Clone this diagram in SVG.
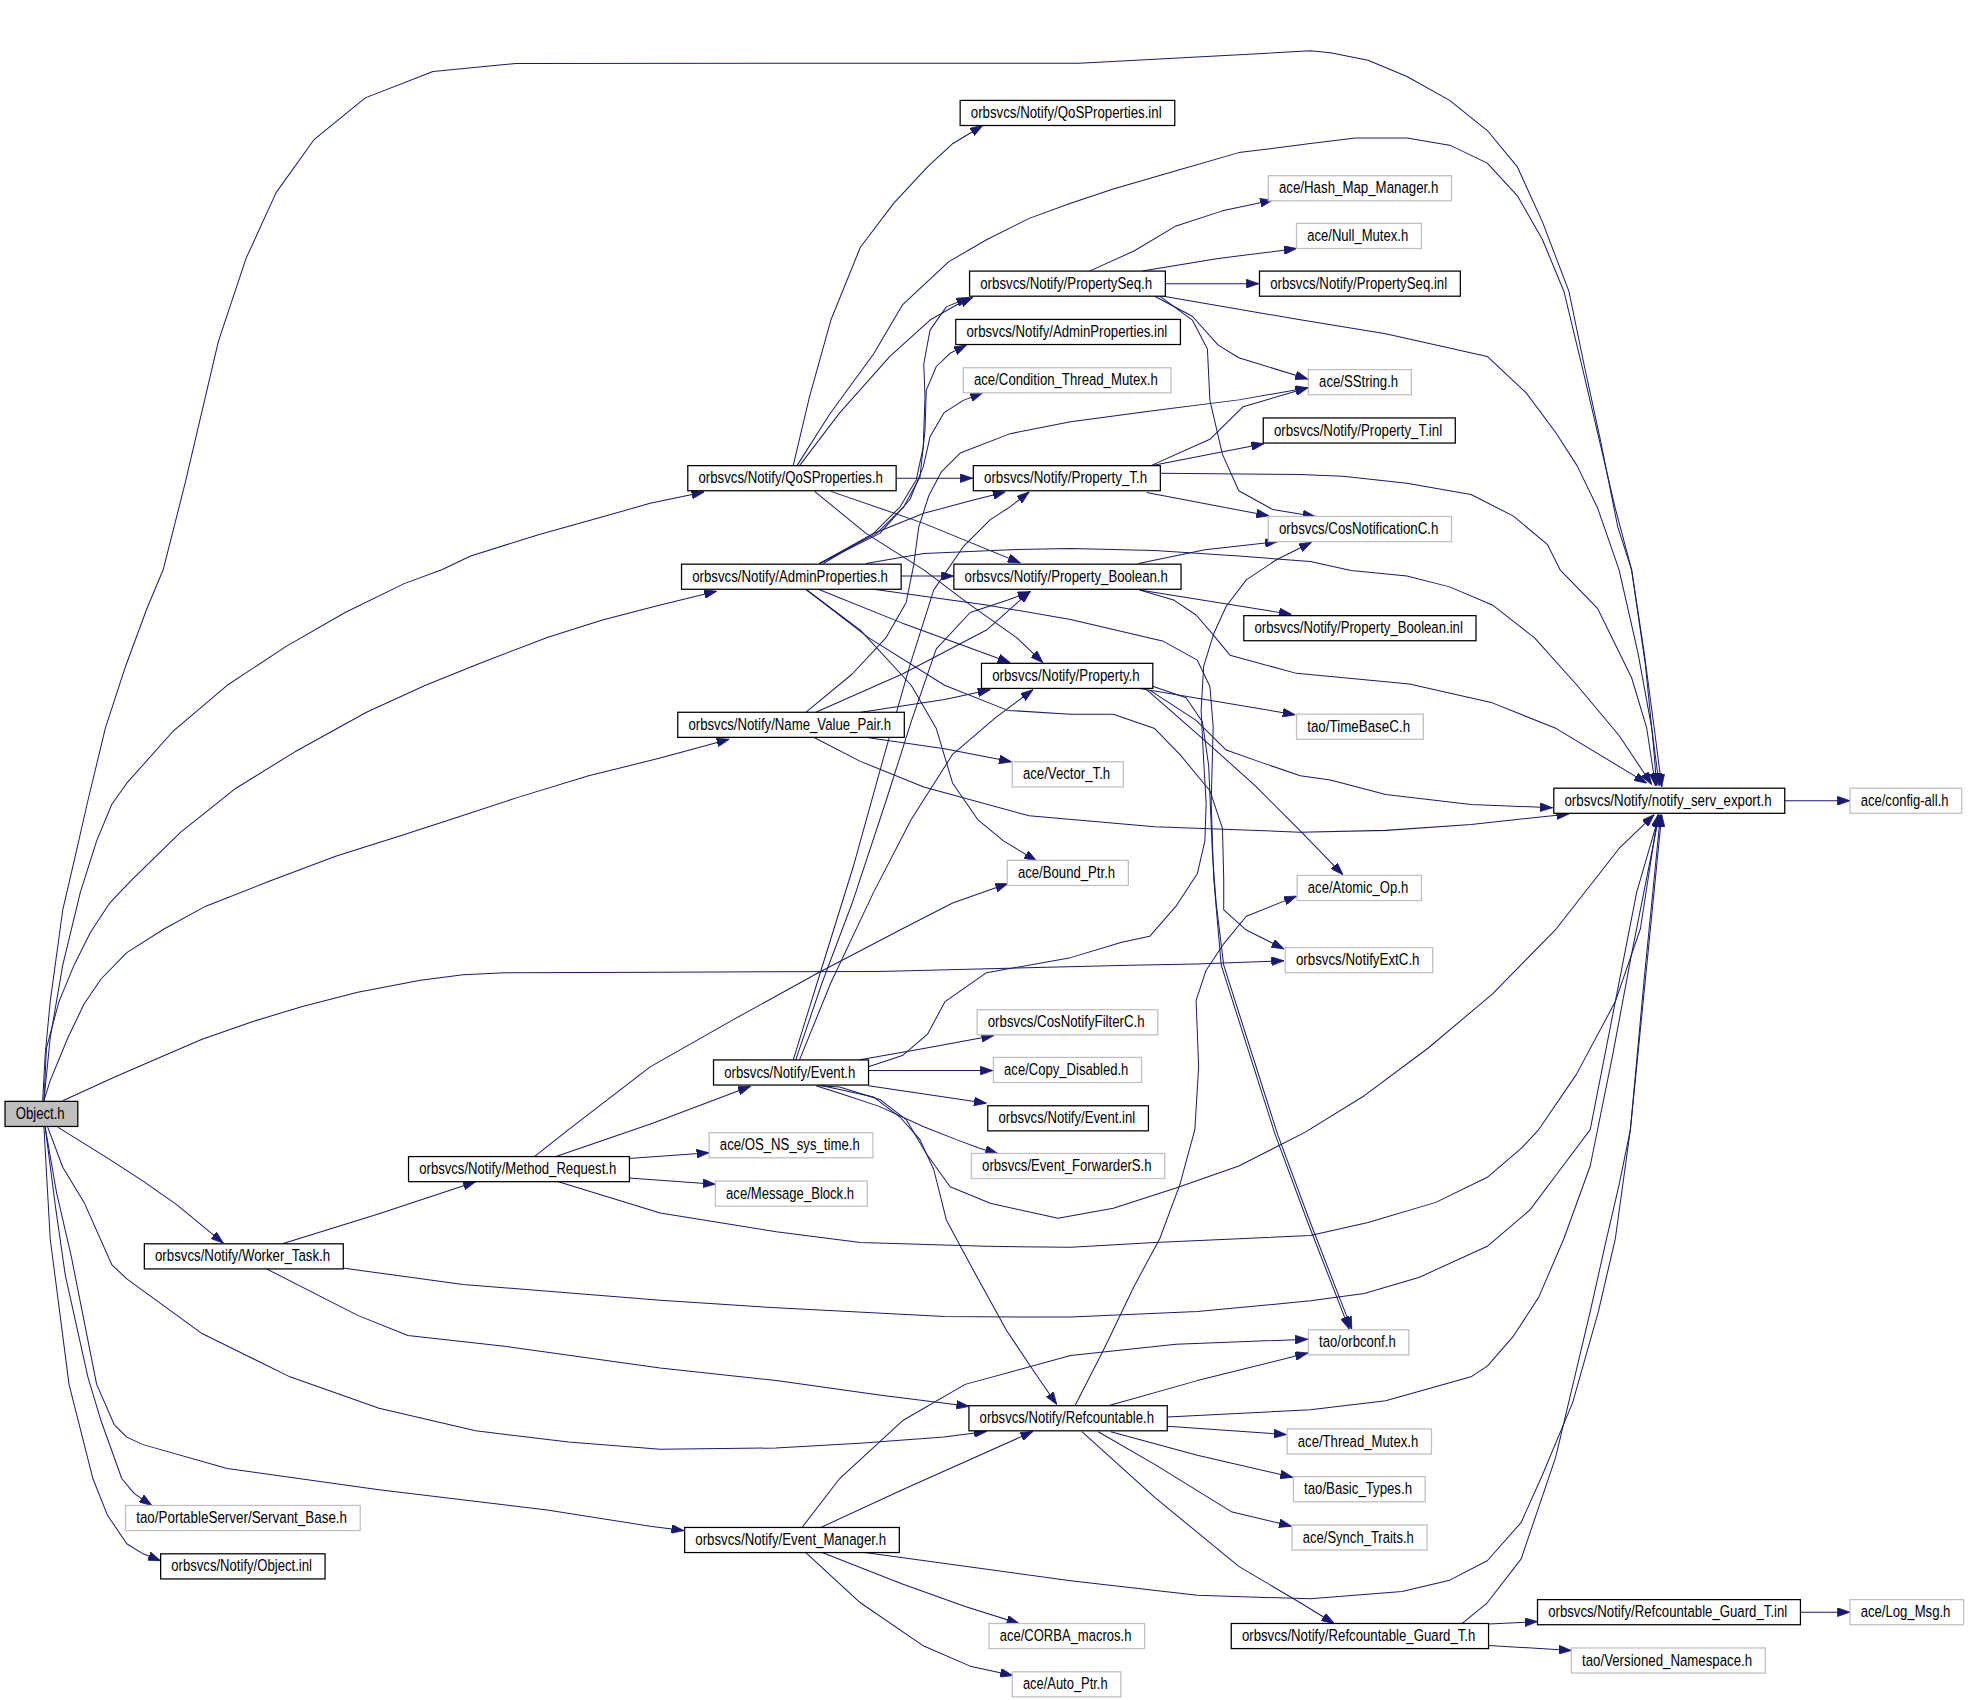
<svg xmlns="http://www.w3.org/2000/svg" width="1968" height="1700" viewBox="0 0 1968 1700">
<style>
text{font-family:"Liberation Sans",Arial,sans-serif;font-size:12.5px;fill:#000}
.b{fill:#fff;stroke:#000;stroke-width:1}
.g{fill:#fff;stroke:#bfbfbf;stroke-width:1}
.r{fill:#bfbfbf;stroke:#000;stroke-width:1}
#edges path{fill:none;stroke:#191970;stroke-width:0.8;stroke-linejoin:round;marker-end:url(#ah)}
</style>
<defs>
<marker id="ah" viewBox="0 0 10 7" refX="10" refY="3.5" markerWidth="10" markerHeight="7" orient="auto" markerUnits="userSpaceOnUse">
<path d="M0,0L10,3.5L0,7z" fill="#191970" stroke="#191970" stroke-width="0.6"/>
</marker>
</defs>
<rect width="1968" height="1700" fill="#fff"/>
<g transform="scale(1.2551)">
<g id="edges">
<path d="M34,877 L36,840 L40,798 L50,725 L60,682 L70,638 L84,580 L100,531 L117,485 L130,454 L147.5,385 L174,272 L196,206 L220,153.5 L250,111.5 L291,78 L345,57 L411,50.5 L860,50.4 L1044,40.5 L1060,42 L1090,48 L1121,61 L1155,80 L1185,104 L1209,133 L1229,177 L1250,232 L1262,290 L1275,350 L1289,420 L1300,454 L1310,520 L1318,580 L1324,627"/>
<path d="M35,877 L40,827 L50,769 L64,711 L77,670 L89,641 L101,624 L137.5,583 L181,546 L228,515 L275,488 L322,465 L352,454 L375,443 L429,426 L476,413 L518,401 L561,392"/>
<path d="M35,877 L37,835 L47,798 L59,769 L72,743 L87,720 L104,702 L144,663 L188,628 L235,599 L292,567.5 L339,546 L386,527 L436,508 L480,494 L526,482 L571,471"/>
<path d="M35,877 L40,861 L54,827 L67,800 L80.5,780 L101,759 L131,740 L164,722 L215,702 L268,682 L318.5,666 L359,653 L412,635.5 L469,618 L526,604 L581,589"/>
<path d="M50,877 L90.5,858.5 L124,844 L161,828 L201,814 L241,802 L285,790.5 L335,781 L369,776.6 L402,775 L526,774.6 L700,774 L900,769 L953,768 L1023,765.5"/>
<path d="M46,898 L87,923.5 L114,941 L141,960 L178,990.5"/>
<path d="M38,898 L50,930 L67,958 L89,1007.5 L101,1019 L161,1062.5 L231,1097 L302,1122 L379,1140 L453,1149 L526,1154.6 L618,1153.7 L685,1150 L752,1145 L786,1140.5"/>
<path d="M36,898 L45,950 L57,1002 L77,1103 L91,1135 L101,1145 L114,1151 L181,1170 L302,1187 L436,1203 L518,1216 L545,1219.5"/>
<path d="M36,898 L44,960 L52,1016 L70,1097 L80.5,1132 L97,1178 L107,1190 L121,1199.5"/>
<path d="M35,898 L40,987 L55,1103 L74,1178 L85.5,1207 L101,1230 L114,1238 L128,1243.5"/>
<path d="M632,371 L645,316 L662,255 L685.5,197 L712,162 L739,133 L759,114.5 L783,100"/>
<path d="M635,371 L661,330 L696,282 L719,243 L756,208.5 L786,191 L820,174 L853,162 L887,150.6 L937,136 L987,121.6 L1044,114.4 L1080,110 L1121,110 L1156,116 L1185,130 L1209,156 L1229,191 L1246,232 L1260,290 L1273.5,347.5 L1287,405 L1300,454 L1311,530 L1317,590 L1320,626"/>
<path d="M637,371 L669,329 L709,284 L741,255 L762,243 L775,237"/>
<path d="M714,381 L775,381"/>
<path d="M662,391.5 L736,417 L813,448.5"/>
<path d="M649,391.5 L690,425 L736,454 L773,482 L810,508 L831,528"/>
<path d="M653,449 L696,425 L717,404 L730,382.5 L735.6,356 L737,316 L736,290 L741,263 L754,244.5 L772,237"/>
<path d="M653,449 L698.5,425 L720,404 L733,380 L737,343 L738,311 L746,292 L757,281.5 L770,275"/>
<path d="M653,449 L701,425 L725,398 L735.6,372 L741,348 L752,329 L767.5,319 L783,313"/>
<path d="M656,449 L696,425 L736,409 L775.5,398.4 L801,392"/>
<path d="M718,459 L760,459"/>
<path d="M690,449 L736,441 L805,438 L853,437 L920,438.7 L987,443 L1044,447.4 L1076.5,454.5 L1121,459 L1155,467.6 L1189,482 L1222.5,508 L1256.5,546 L1290,586 L1316,625"/>
<path d="M652,469.5 L719,496.5 L805,528"/>
<path d="M642,469.5 L685.5,502 L726,546 L746,580.5 L759,624 L779,653 L799.5,670 L826,686"/>
<path d="M642,469.5 L692,508 L752.6,546 L803,566 L853,569 L887,569 L920,580.5 L940,601 L964,630 L974,660 L975,700 L975,725 L993,741 L1023,756"/>
<path d="M696,469.5 L786,482 L853,493.6 L927,511 L954,526 L964,547 L966.6,579 L965,640 L967,700 L973,769 L1016,904 L1042,974 L1075,1059"/>
<path d="M916,546 L945,556 L958,575 L963,610 L966,680 L969,720 L975,769 L1018,904 L1044,974 L1077,1059"/>
<path d="M912,548 L960,590 L1000,626 L1036,662 L1070,697"/>
<path d="M908,548.5 L1032,569.5"/>
<path d="M916,549.8 L953,574 L977,597.6 L1006.5,608 L1036,618 L1060,621.5 L1104,633 L1172,641 L1237,643.5"/>
<path d="M686,567.5 L752.6,557.4 L789,549.5"/>
<path d="M650,567.5 L719,537 L786,502 L821,471"/>
<path d="M642,567.5 L679,537 L706,508 L722,480 L728,450 L732,420 L740,395 L750,376 L765,361 L805,345.5 L853,336 L920,327 L987,318.6 L1042,309"/>
<path d="M692,587.8 L752.6,596.5 L806,607"/>
<path d="M649,587.8 L685.5,606.6 L736,627 L820,650 L920,658.7 L1036,663 L1104,661.6 L1172,657 L1250,648.5"/>
<path d="M868,216 L903.5,200 L937,180 L974,168 L1014,159.5"/>
<path d="M910,216 L970.6,206 L1033,198"/>
<path d="M928.5,226 L1003,226"/>
<path d="M920,236 L950,252 L970.6,275 L987,285 L1042,302"/>
<path d="M924,236 L950,255 L962,278 L964,319 L974,362 L987,391 L1014,406 L1048,411.5"/>
<path d="M927,236 L1036,254.8 L1104,266 L1185,284 L1216,313 L1239.5,344.6 L1256.5,371 L1273,405 L1290,454 L1305,520 L1316,580 L1322,626"/>
<path d="M917,371 L964,350 L990.5,324 L1042,309"/>
<path d="M917,371 L1007,353.5"/>
<path d="M924,377 L1036,378 L1070,379.4 L1121,385 L1172,394 L1205.5,411 L1233,434 L1243,454 L1273,485 L1300,540 L1312,580 L1319,626"/>
<path d="M913.5,392.4 L1011,411"/>
<path d="M907,449 L960,438 L1018,431.5"/>
<path d="M908,470 L1029,489.5"/>
<path d="M908,470 L935,478 L953,490 L966,505 L980,522 L1033,536.5 L1123,545 L1189,560 L1240,580.5 L1312,624"/>
<path d="M632,844.5 L652,780 L680,690 L705,600 L725,530 L744,470 L767.5,435.6 L789,414 L805,403.7 L820,392"/>
<path d="M634,844.5 L655,783 L679,719.5 L706,638 L726,575 L746,517 L773,488 L803,478 L821,471.5"/>
<path d="M637,844.5 L662,783 L696,711 L726,653 L759,601 L793,572 L823,549.5"/>
<path d="M692,850 L719,841 L739,824 L753,798 L786,775 L853,763 L893,751 L916,746 L937,722 L954,696 L960,670 L961,640 L959,606 L957,566 L959,531 L967,505 L977,483 L993,462 L1017,446 L1045,432"/>
<path d="M684,844.5 L736,835.4 L792,825"/>
<path d="M692,853 L791,853"/>
<path d="M692,865 L786,879"/>
<path d="M650,865 L669,871 L701,881.7 L736,897.7 L762,908 L781,915 L795,919"/>
<path d="M655,865 L669,868 L696,874 L717,890 L733,908 L744,932 L754,972 L775.5,1012 L802,1060 L823,1091.5 L842,1119"/>
<path d="M652,865 L669,866 L701,876 L722,892 L738,919 L757,945.5 L789,958.7 L843,970.7 L887,962.6 L937,946.6 L987,929 L1040,902 L1087,873 L1138,835 L1189,792 L1240,740 L1290,676 L1318,649"/>
<path d="M443,921.4 L520,895 L598,865.5"/>
<path d="M426,921.4 L453,900 L518,850 L585,812 L652,775 L719,740 L759,719.5 L803,704"/>
<path d="M501,923 L565,918.5"/>
<path d="M501,938.5 L570,943.5"/>
<path d="M443,941 L526,966.5 L618.5,981.4 L685.5,990 L786,993 L853,993.8 L920,990 L987,987 L1044,984.3 L1090,974 L1144,958 L1185,938 L1212,915 L1226,900 L1256,856 L1287,798 L1307,740 L1321,649"/>
<path d="M225,991 L302,967 L379,941.5"/>
<path d="M273,1010.3 L369,1023.4 L526,1036 L618.5,1042 L752.6,1049 L853,1049.4 L954,1045 L1044,1036.4 L1087,1030.6 L1131,1017.6 L1185,993 L1219,964 L1243,932 L1267,900 L1287,798 L1304,711 L1322,649"/>
<path d="M211,1010.3 L285,1048 L325,1064 L402,1072.6 L526,1090 L618.5,1100 L702,1111.7 L772,1120.5"/>
<path d="M883,1120 L954,1100 L1042,1078"/>
<path d="M930,1129 L1044,1123.3 L1104,1116 L1172,1097 L1185,1088.5 L1205.5,1065 L1226,1033.5 L1246,987 L1267,929 L1285,840 L1300,760 L1322,649"/>
<path d="M930,1136.3 L1025,1143"/>
<path d="M885,1140.7 L954,1159.5 L1030,1177"/>
<path d="M875,1140.7 L920,1166.7 L981,1204.4 L1029,1216"/>
<path d="M862,1140.7 L920,1193 L987,1248 L1036,1277 L1063,1293.5"/>
<path d="M856.5,1120 L880,1074 L903.5,1025 L924,987 L940,944 L952,900 L955,850 L953,797 L961,773 L975,752 L993,730 L1033,714"/>
<path d="M639,1217 L669,1178 L719,1132 L769,1103 L853,1080 L937,1071 L1042,1067"/>
<path d="M654,1217 L719,1187 L823,1140.5"/>
<path d="M689,1237 L853,1259.4 L954,1271 L1044,1273.9 L1117,1268 L1155,1259 L1185,1243.5 L1212,1213 L1229,1175 L1253,1117.5 L1273.5,1045 L1287,987 L1299,900 L1310,780 L1323,649"/>
<path d="M655,1237 L719,1262 L769,1280 L812,1293.5"/>
<path d="M642,1237 L685.5,1277 L736,1311.5 L773,1327.5 L807,1335"/>
<path d="M1165,1293.5 L1185,1277 L1212,1242 L1239.5,1161 L1267,1045 L1280,987 L1290,944 L1299,900 L1311,780 L1324,649"/>
<path d="M1186,1294 L1225,1292"/>
<path d="M1186,1311 L1252,1315"/>
<path d="M1434,1284.5 L1474,1284.5"/>
<path d="M1422,638 L1474,638"/>
</g>
<g id="n_object_h"><rect class="r" x="4" y="877.5" width="58" height="20"/><text x="12.5" y="891.5" textLength="39" lengthAdjust="spacingAndGlyphs">Object.h</text></g>
<g id="n_qosproperties_inl"><rect class="b" x="765" y="80" width="171" height="20"/><text x="773.5" y="94" textLength="152" lengthAdjust="spacingAndGlyphs">orbsvcs/Notify/QoSProperties.inl</text></g>
<g id="n_hash_map_manager"><rect class="g" x="1010.5" y="140" width="146" height="20"/><text x="1019" y="154" textLength="127" lengthAdjust="spacingAndGlyphs">ace/Hash_Map_Manager.h</text></g>
<g id="n_null_mutex"><rect class="g" x="1033" y="178" width="99.5" height="20"/><text x="1041.5" y="192" textLength="80.5" lengthAdjust="spacingAndGlyphs">ace/Null_Mutex.h</text></g>
<g id="n_propertyseq_h"><rect class="b" x="772.5" y="216" width="156" height="20"/><text x="781" y="230" textLength="137" lengthAdjust="spacingAndGlyphs">orbsvcs/Notify/PropertySeq.h</text></g>
<g id="n_propertyseq_inl"><rect class="b" x="1003.5" y="216" width="160" height="20"/><text x="1012" y="230" textLength="141" lengthAdjust="spacingAndGlyphs">orbsvcs/Notify/PropertySeq.inl</text></g>
<g id="n_adminproperties_inl"><rect class="b" x="761.5" y="254.5" width="179" height="20"/><text x="770" y="268.5" textLength="160" lengthAdjust="spacingAndGlyphs">orbsvcs/Notify/AdminProperties.inl</text></g>
<g id="n_condition_thread_mutex"><rect class="g" x="767.5" y="293" width="165.5" height="20"/><text x="776" y="307" textLength="146.5" lengthAdjust="spacingAndGlyphs">ace/Condition_Thread_Mutex.h</text></g>
<g id="n_sstring"><rect class="g" x="1042.5" y="294.5" width="82" height="20"/><text x="1051" y="308.5" textLength="63" lengthAdjust="spacingAndGlyphs">ace/SString.h</text></g>
<g id="n_property_t_inl"><rect class="b" x="1006.5" y="333" width="153" height="20"/><text x="1015" y="347" textLength="134" lengthAdjust="spacingAndGlyphs">orbsvcs/Notify/Property_T.inl</text></g>
<g id="n_qosproperties_h"><rect class="b" x="548" y="371" width="166" height="20"/><text x="556.5" y="385" textLength="147" lengthAdjust="spacingAndGlyphs">orbsvcs/Notify/QoSProperties.h</text></g>
<g id="n_property_t_h"><rect class="b" x="775.5" y="371" width="149" height="20"/><text x="784" y="385" textLength="130" lengthAdjust="spacingAndGlyphs">orbsvcs/Notify/Property_T.h</text></g>
<g id="n_cosnotificationc"><rect class="g" x="1010.5" y="411.5" width="146" height="20"/><text x="1019" y="425.5" textLength="127" lengthAdjust="spacingAndGlyphs">orbsvcs/CosNotificationC.h</text></g>
<g id="n_adminproperties_h"><rect class="b" x="543" y="449.5" width="175" height="20"/><text x="551.5" y="463.5" textLength="156" lengthAdjust="spacingAndGlyphs">orbsvcs/Notify/AdminProperties.h</text></g>
<g id="n_property_boolean_h"><rect class="b" x="760" y="449.5" width="181" height="20"/><text x="768.5" y="463.5" textLength="162" lengthAdjust="spacingAndGlyphs">orbsvcs/Notify/Property_Boolean.h</text></g>
<g id="n_property_boolean_inl"><rect class="b" x="991" y="490.5" width="185" height="20"/><text x="999.5" y="504.5" textLength="166" lengthAdjust="spacingAndGlyphs">orbsvcs/Notify/Property_Boolean.inl</text></g>
<g id="n_property_h"><rect class="b" x="782" y="528.5" width="136.5" height="20"/><text x="790.5" y="542.5" textLength="117.5" lengthAdjust="spacingAndGlyphs">orbsvcs/Notify/Property.h</text></g>
<g id="n_timebasec"><rect class="g" x="1033" y="569" width="101" height="20"/><text x="1041.5" y="583" textLength="82" lengthAdjust="spacingAndGlyphs">tao/TimeBaseC.h</text></g>
<g id="n_name_value_pair"><rect class="b" x="540" y="567.5" width="180.5" height="20"/><text x="548.5" y="581.5" textLength="161.5" lengthAdjust="spacingAndGlyphs">orbsvcs/Notify/Name_Value_Pair.h</text></g>
<g id="n_vector_t"><rect class="g" x="806.5" y="607" width="88.5" height="20"/><text x="815" y="621" textLength="69.5" lengthAdjust="spacingAndGlyphs">ace/Vector_T.h</text></g>
<g id="n_notify_serv_export"><rect class="b" x="1238" y="628" width="184" height="20"/><text x="1246.5" y="642" textLength="165" lengthAdjust="spacingAndGlyphs">orbsvcs/Notify/notify_serv_export.h</text></g>
<g id="n_config_all"><rect class="g" x="1474" y="628" width="89" height="20"/><text x="1482.5" y="642" textLength="70" lengthAdjust="spacingAndGlyphs">ace/config-all.h</text></g>
<g id="n_bound_ptr"><rect class="g" x="802.5" y="685.5" width="96.5" height="20"/><text x="811" y="699.5" textLength="77.5" lengthAdjust="spacingAndGlyphs">ace/Bound_Ptr.h</text></g>
<g id="n_atomic_op"><rect class="g" x="1033.5" y="697.5" width="99" height="20"/><text x="1042" y="711.5" textLength="80" lengthAdjust="spacingAndGlyphs">ace/Atomic_Op.h</text></g>
<g id="n_notifyextc"><rect class="g" x="1024" y="755" width="117.5" height="20"/><text x="1032.5" y="769" textLength="98.5" lengthAdjust="spacingAndGlyphs">orbsvcs/NotifyExtC.h</text></g>
<g id="n_cosnotifyfilterc"><rect class="g" x="778.5" y="804.5" width="144" height="20"/><text x="787" y="818.5" textLength="125" lengthAdjust="spacingAndGlyphs">orbsvcs/CosNotifyFilterC.h</text></g>
<g id="n_event_h"><rect class="b" x="568.5" y="844.5" width="123.5" height="20"/><text x="577" y="858.5" textLength="104.5" lengthAdjust="spacingAndGlyphs">orbsvcs/Notify/Event.h</text></g>
<g id="n_copy_disabled"><rect class="g" x="791.5" y="842.5" width="118" height="20"/><text x="800" y="856.5" textLength="99" lengthAdjust="spacingAndGlyphs">ace/Copy_Disabled.h</text></g>
<g id="n_event_inl"><rect class="b" x="787" y="881" width="128" height="20"/><text x="795.5" y="895" textLength="109" lengthAdjust="spacingAndGlyphs">orbsvcs/Notify/Event.inl</text></g>
<g id="n_event_forwarders"><rect class="g" x="774" y="919" width="154" height="20"/><text x="782.5" y="933" textLength="135" lengthAdjust="spacingAndGlyphs">orbsvcs/Event_ForwarderS.h</text></g>
<g id="n_os_ns_sys_time"><rect class="g" x="565" y="902.5" width="130.5" height="20"/><text x="573.5" y="916.5" textLength="111.5" lengthAdjust="spacingAndGlyphs">ace/OS_NS_sys_time.h</text></g>
<g id="n_method_request"><rect class="b" x="325.5" y="921.5" width="176" height="20"/><text x="334" y="935.5" textLength="157" lengthAdjust="spacingAndGlyphs">orbsvcs/Notify/Method_Request.h</text></g>
<g id="n_message_block"><rect class="g" x="570" y="941" width="121" height="20"/><text x="578.5" y="955" textLength="102" lengthAdjust="spacingAndGlyphs">ace/Message_Block.h</text></g>
<g id="n_worker_task"><rect class="b" x="115" y="991" width="158.5" height="20"/><text x="123.5" y="1005" textLength="139.5" lengthAdjust="spacingAndGlyphs">orbsvcs/Notify/Worker_Task.h</text></g>
<g id="n_orbconf"><rect class="g" x="1042.5" y="1059.5" width="80" height="20"/><text x="1051" y="1073.5" textLength="61" lengthAdjust="spacingAndGlyphs">tao/orbconf.h</text></g>
<g id="n_refcountable_h"><rect class="b" x="772" y="1120" width="158" height="20"/><text x="780.5" y="1134" textLength="139" lengthAdjust="spacingAndGlyphs">orbsvcs/Notify/Refcountable.h</text></g>
<g id="n_thread_mutex"><rect class="g" x="1025.5" y="1138.5" width="115" height="20"/><text x="1034" y="1152.5" textLength="96" lengthAdjust="spacingAndGlyphs">ace/Thread_Mutex.h</text></g>
<g id="n_basic_types"><rect class="g" x="1030.5" y="1176.5" width="105" height="20"/><text x="1039" y="1190.5" textLength="86" lengthAdjust="spacingAndGlyphs">tao/Basic_Types.h</text></g>
<g id="n_synch_traits"><rect class="g" x="1029.5" y="1215" width="107.5" height="20"/><text x="1038" y="1229" textLength="88.5" lengthAdjust="spacingAndGlyphs">ace/Synch_Traits.h</text></g>
<g id="n_servant_base"><rect class="g" x="100" y="1199.5" width="187" height="20"/><text x="108.5" y="1213.5" textLength="168" lengthAdjust="spacingAndGlyphs">tao/PortableServer/Servant_Base.h</text></g>
<g id="n_event_manager"><rect class="b" x="545.5" y="1217" width="171" height="20"/><text x="554" y="1231" textLength="152" lengthAdjust="spacingAndGlyphs">orbsvcs/Notify/Event_Manager.h</text></g>
<g id="n_object_inl"><rect class="b" x="128" y="1238" width="131" height="20"/><text x="136.5" y="1252" textLength="112" lengthAdjust="spacingAndGlyphs">orbsvcs/Notify/Object.inl</text></g>
<g id="n_corba_macros"><rect class="g" x="788" y="1293.5" width="124" height="20"/><text x="796.5" y="1307.5" textLength="105" lengthAdjust="spacingAndGlyphs">ace/CORBA_macros.h</text></g>
<g id="n_refcountable_guard_t_h"><rect class="b" x="981" y="1293.5" width="205" height="20"/><text x="989.5" y="1307.5" textLength="186" lengthAdjust="spacingAndGlyphs">orbsvcs/Notify/Refcountable_Guard_T.h</text></g>
<g id="n_refcountable_guard_t_inl"><rect class="b" x="1225" y="1274.5" width="209.5" height="20"/><text x="1233.5" y="1288.5" textLength="190.5" lengthAdjust="spacingAndGlyphs">orbsvcs/Notify/Refcountable_Guard_T.inl</text></g>
<g id="n_log_msg"><rect class="g" x="1474" y="1274.5" width="90.5" height="20"/><text x="1482.5" y="1288.5" textLength="71.5" lengthAdjust="spacingAndGlyphs">ace/Log_Msg.h</text></g>
<g id="n_versioned_namespace"><rect class="g" x="1252" y="1313" width="154.5" height="20"/><text x="1260.5" y="1327" textLength="135.5" lengthAdjust="spacingAndGlyphs">tao/Versioned_Namespace.h</text></g>
<g id="n_auto_ptr"><rect class="g" x="806.5" y="1332" width="86.5" height="20"/><text x="815" y="1346" textLength="67.5" lengthAdjust="spacingAndGlyphs">ace/Auto_Ptr.h</text></g>
</g>
</svg>
